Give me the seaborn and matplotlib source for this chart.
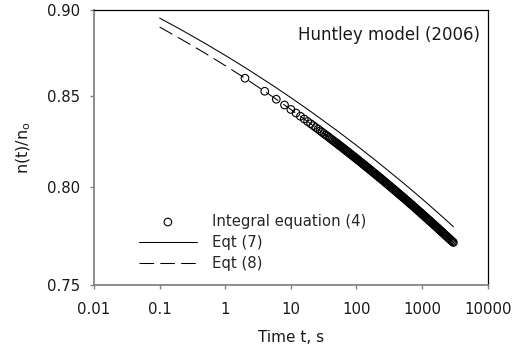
import matplotlib
matplotlib.use("Agg")
import matplotlib.pyplot as plt
import matplotlib.ticker as mticker
import seaborn as sns

# ---------------- data ----------------
# Integral equation (4): open circles
integral_t = [
    2, 4, 6, 8, 10, 12, 14, 16, 18, 20, 22, 24, 26, 28, 30,
    32, 34, 36, 38, 40, 42, 44, 46, 48, 50, 52, 54, 56, 58, 60,
    62.47, 64.67, 66.95, 69.31, 71.75, 74.28, 76.90, 79.60, 82.41, 85.31,
    88.32, 91.43, 94.65, 97.99, 101.4, 105.0, 108.7, 112.5, 116.5, 120.6,
    124.9, 129.3, 133.8, 138.5, 143.4, 148.5, 153.7, 159.1, 164.7, 170.5,
    176.5, 182.7, 189.2, 195.8, 202.7, 209.9, 217.3, 224.9, 232.9, 241.1,
    249.6, 258.4, 267.5, 276.9, 286.6, 296.7, 307.2, 318.0, 329.2, 340.8,
    352.8, 365.2, 378.1, 391.4, 405.2, 419.5, 434.3, 449.6, 465.4, 481.8,
    498.8, 516.4, 534.6, 553.4, 572.9, 593.1, 614.0, 635.6, 658.0, 681.2,
    705.2, 730.0, 755.8, 782.4, 809.9, 838.5, 868.0, 898.6, 930.3, 963.0,
    997, 1032, 1068, 1106, 1145, 1185, 1227, 1270, 1315, 1362,
    1410, 1459, 1511, 1564, 1619, 1676, 1735, 1796, 1859, 1925,
    1993, 2063, 2136, 2211, 2289, 2369, 2453, 2539, 2629, 2721,
    2817, 2917, 3000,
]
integral_y = [
    0.8600, 0.8526, 0.8481, 0.8449, 0.8424, 0.8404, 0.8386, 0.8371, 0.8357, 0.8345,
    0.8334, 0.8324, 0.8315, 0.8306, 0.8298, 0.8290, 0.8283, 0.8277, 0.8270, 0.8264,
    0.8258, 0.8253, 0.8247, 0.8242, 0.8238, 0.8233, 0.8228, 0.8224, 0.8220, 0.8216,
    0.8211, 0.8207, 0.8202, 0.8198, 0.8194, 0.8190, 0.8186, 0.8181, 0.8177, 0.8173,
    0.8169, 0.8165, 0.8160, 0.8156, 0.8152, 0.8148, 0.8143, 0.8139, 0.8135, 0.8131,
    0.8126, 0.8122, 0.8118, 0.8113, 0.8109, 0.8105, 0.8101, 0.8096, 0.8092, 0.8088,
    0.8083, 0.8079, 0.8075, 0.8070, 0.8066, 0.8062, 0.8057, 0.8053, 0.8049, 0.8044,
    0.8040, 0.8036, 0.8031, 0.8027, 0.8022, 0.8018, 0.8014, 0.8009, 0.8005, 0.8000,
    0.7996, 0.7992, 0.7987, 0.7983, 0.7978, 0.7974, 0.7969, 0.7965, 0.7960, 0.7956,
    0.7952, 0.7947, 0.7943, 0.7938, 0.7934, 0.7929, 0.7925, 0.7920, 0.7916, 0.7911,
    0.7907, 0.7902, 0.7898, 0.7893, 0.7888, 0.7884, 0.7879, 0.7875, 0.7870, 0.7866,
    0.7861, 0.7857, 0.7852, 0.7847, 0.7843, 0.7838, 0.7834, 0.7829, 0.7825, 0.7820,
    0.7815, 0.7811, 0.7806, 0.7801, 0.7797, 0.7792, 0.7788, 0.7783, 0.7778, 0.7774,
    0.7769, 0.7764, 0.7760, 0.7755, 0.7750, 0.7746, 0.7741, 0.7736, 0.7732, 0.7727,
    0.7722, 0.7718, 0.7714,
]

# Eqt (7) solid line and Eqt (8) dashed line
eqt_t = [0.1, 0.2, 0.5, 1, 2, 5, 10, 20, 50, 100, 200, 500, 1000, 2000, 3000]
eqt7_y = [0.8949, 0.8886, 0.8799, 0.8731, 0.8661, 0.8565, 0.8490, 0.8413,
          0.8308, 0.8226, 0.8142, 0.8028, 0.7940, 0.7849, 0.7795]
eqt8_y = [0.8896, 0.8831, 0.8742, 0.8672, 0.8600, 0.8501, 0.8424, 0.8345,
          0.8238, 0.8154, 0.8068, 0.7951, 0.7861, 0.7769, 0.7714]

x_ticks = [0.01, 0.1, 1, 10, 100, 1000, 10000]
x_ticklabels = ["0.01", "0.1", "1", "10", "100", "1000", "10000"]
y_ticks = [0.75, 0.80, 0.85, 0.90]
y_ticklabels = ["0.75", "0.80", "0.85", "0.90"]

series_labels = ["Integral equation (4)", "Eqt (7)", "Eqt (8)"]
annotation = "Huntley model (2006)"

# ---------------- style ----------------
sns.set_style("ticks")
plt.rcParams["font.family"] = ["DejaVu Sans"]
plt.rcParams["mathtext.fontset"] = "dejavusans"

fig = plt.figure(figsize=(5.21, 3.52), dpi=100)
ax = fig.add_axes([94 / 521, 1 - 285 / 352, 393.7 / 521, 275.5 / 352])

sns.lineplot(x=eqt_t, y=eqt8_y, ax=ax, color="black", linewidth=0.75,
             linestyle=(0, (14, 6)), estimator=None, sort=False,
             label=series_labels[2], zorder=2)
sns.lineplot(x=eqt_t, y=eqt7_y, ax=ax, color="black", linewidth=0.75,
             estimator=None, sort=False, label=series_labels[1], zorder=2)
sns.scatterplot(x=integral_t, y=integral_y, ax=ax, marker="o", s=30,
                facecolor="none", edgecolor="black", linewidth=0.8,
                label=series_labels[0], zorder=3)

ax.set_xscale("log")
ax.set_yscale("log")
ax.set_xlim(0.01, 10000)
ax.set_ylim(0.75, 0.90)
ax.xaxis.set_major_locator(mticker.FixedLocator(x_ticks))
ax.xaxis.set_major_formatter(mticker.FixedFormatter(x_ticklabels))
ax.yaxis.set_major_locator(mticker.FixedLocator(y_ticks))
ax.yaxis.set_major_formatter(mticker.FixedFormatter(y_ticklabels))
ax.xaxis.set_minor_locator(mticker.NullLocator())
ax.yaxis.set_minor_locator(mticker.NullLocator())

gray = "#858585"
for side in ["left", "bottom"]:
    ax.spines[side].set_color(gray)
    ax.spines[side].set_linewidth(1.3)
for side in ["top", "right"]:
    ax.spines[side].set_color("black")
    ax.spines[side].set_linewidth(0.9)
    ax.spines[side].set_visible(True)

ax.tick_params(axis="x", direction="out", length=3, width=1.0, color=gray,
               labelsize=10.7, pad=9, labelcolor="#1a1a1a")
ax.tick_params(axis="y", direction="out", length=3, width=1.0, color=gray,
               labelsize=10.7, pad=7, labelcolor="#1a1a1a")

ax.set_xlabel("Time t, s", fontsize=11, color="#1a1a1a")
ax.set_ylabel(r"n(t)/n$_\mathrm{o}$", fontsize=11.5, color="#1a1a1a")
ax.xaxis.set_label_coords(0.5, -0.165)
ax.yaxis.set_label_coords(-0.154, 0.5)

ax.text(0.9805, 0.889, annotation, transform=ax.transAxes, ha="right",
        va="baseline", fontsize=12, color="#1a1a1a")

handles, labels = ax.get_legend_handles_labels()
order = [labels.index(l) for l in series_labels]
ax.legend([handles[i] for i in order], [labels[i] for i in order],
          loc="upper left", bbox_to_anchor=(0.114, 0.258), frameon=False,
          fontsize=10.7, handlelength=3.9, handletextpad=1.0,
          labelspacing=0.4, borderpad=0, borderaxespad=0, scatterpoints=1)

fig.savefig("out.png", dpi=100)
